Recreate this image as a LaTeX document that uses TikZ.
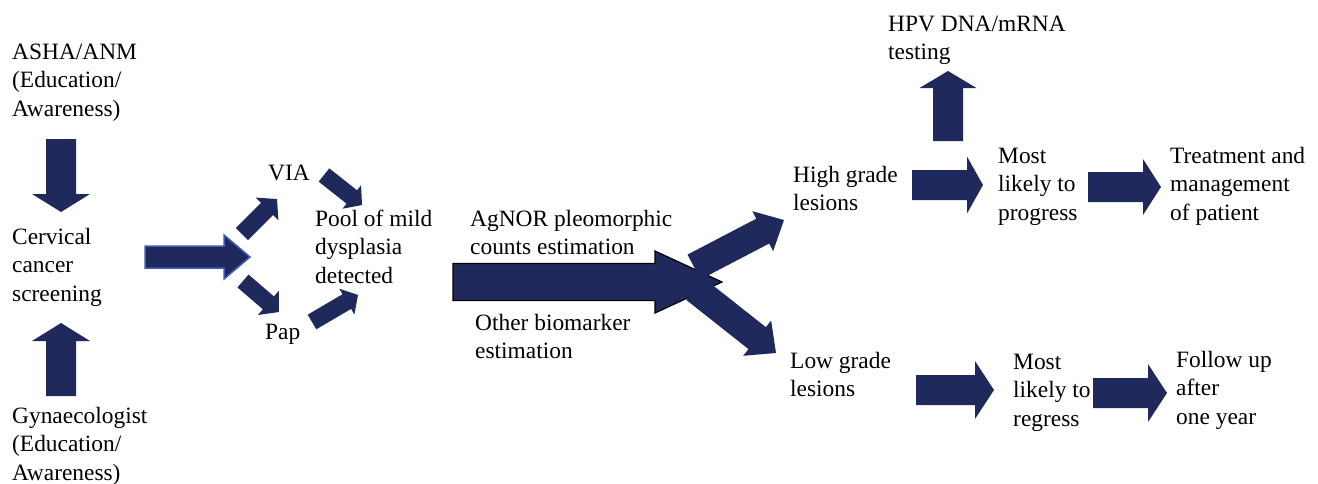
\documentclass[tikz,border=0pt]{standalone}
\usepackage{fontspec}
\setmainfont{Liberation Serif}
\usetikzlibrary{calc}
\definecolor{navy}{RGB}{32,41,92}
\definecolor{edgeblue}{RGB}{63,93,180}
% block arrow: [style]{start}{tip}{shaft width}{head width}{head length}
\newcommand\barrow[6][]{%
  \coordinate (bh) at ($(#3)!#6!(#2)$);
  \path[barr,#1] ($(#2)!#4/2!90:(#3)$) -- ($(bh)!#4/2!90:(#3)$) -- ($(bh)!#5/2!90:(#3)$) -- (#3)
     -- ($(bh)!#5/2!-90:(#3)$) -- ($(bh)!#4/2!-90:(#3)$) -- ($(#2)!#4/2!-90:(#3)$) -- cycle;}
\tikzset{
  barr/.style={fill=navy},
  % anchor = baseline of the LAST line of the text
  lbl/.style={anchor=base west, align=left, inner sep=0pt, font=\fontsize{23.4}{28.7}\selectfont},
  blueedge/.style={draw=edgeblue, line width=1.5pt},
  blackedge/.style={draw=black, line width=1.2pt}
}
\begin{document}
\begin{tikzpicture}[x=1pt,y=-1pt]
\useasboundingbox (0,0) rectangle (1318,483);
% texts (positioned at last baseline)
\node[lbl] (asha) at (12,116.4) {ASHA/ANM\\(Education/\\Awareness)};
\node[lbl] (ccs) at (12,301.4) {Cervical\\cancer\\screening};
\node[lbl] (gyn) at (12,480.4) {Gynaecologist\\(Education/\\Awareness)};
\node[lbl] (via) at (268,180) {VIA};
\node[lbl] (pool) at (315,283.4) {Pool of mild\\dysplasia\\detected};
\node[lbl] (pap) at (265,339) {Pap};
\node[lbl] (agnor) at (470,254.7) {AgNOR pleomorphic\\counts estimation};
\node[lbl] (other) at (475,358.7) {Other biomarker\\estimation};
\node[lbl] (high) at (793,210.7) {High grade\\lesions};
\node[lbl] (low) at (790,396.7) {Low grade\\lesions};
\node[lbl] (hpv) at (888,59.7) {HPV DNA/mRNA\\testing};
\node[lbl] (prog) at (998,220.4) {Most\\likely to\\progress};
\node[lbl] (treat) at (1170,220.4) {Treatment and\\management\\of patient};
\node[lbl] (regr) at (1013,426.4) {Most\\likely to\\regress};
\node[lbl] (follow) at (1176,424.4) {Follow up\\after\\one year};
% arrow end points
\coordinate (a1s) at (61,139);  \coordinate (a1e) at (61,212);
\coordinate (a2s) at (61,396);  \coordinate (a2e) at (61,323);
\coordinate (a3s) at (145,257); \coordinate (a3e) at (250,257);
\coordinate (a4s) at (242,234); \coordinate (a4e) at (277,199);
\coordinate (a5s) at (243,281); \coordinate (a5e) at (279,312);
\coordinate (a6s) at (324,175); \coordinate (a6e) at (362,205);
\coordinate (a7s) at (312,322); \coordinate (a7e) at (358,295);
\coordinate (a8s) at (453,282); \coordinate (a8e) at (722,282);
\coordinate (a9s) at (694,267); \coordinate (a9e) at (784,220);
\coordinate (a10s) at (695,289); \coordinate (a10e) at (776,353);
\coordinate (a11s) at (948,141); \coordinate (a11e) at (948,71);
\coordinate (a12s) at (912,185); \coordinate (a12e) at (983,185);
\coordinate (a13s) at (1088,187); \coordinate (a13e) at (1161,187);
\coordinate (a14s) at (916,390); \coordinate (a14e) at (994,390);
\coordinate (a15s) at (1093,393); \coordinate (a15e) at (1167,393);
% arrows
\barrow{a1s}{a1e}{30pt}{58pt}{18pt}
\barrow{a2s}{a2e}{30pt}{58pt}{18pt}
\barrow[blueedge]{a3s}{a3e}{22pt}{44pt}{26pt}
\barrow{a4s}{a4e}{17pt}{32pt}{14pt}
\barrow{a5s}{a5e}{17pt}{32pt}{14pt}
\barrow{a6s}{a6e}{17pt}{30pt}{13pt}
\barrow{a7s}{a7e}{17pt}{30pt}{13pt}
\barrow[blackedge]{a8s}{a8e}{37pt}{62pt}{67pt}
\barrow{a9s}{a9e}{28pt}{45pt}{24pt}
\barrow{a10s}{a10e}{28pt}{45pt}{24pt}
\barrow{a11s}{a11e}{30pt}{57pt}{17pt}
\barrow{a12s}{a12e}{30pt}{57pt}{16pt}
\barrow{a13s}{a13e}{30pt}{56pt}{18pt}
\barrow{a14s}{a14e}{30pt}{58pt}{19pt}
\barrow{a15s}{a15e}{30pt}{58pt}{19pt}
\end{tikzpicture}
\end{document}
